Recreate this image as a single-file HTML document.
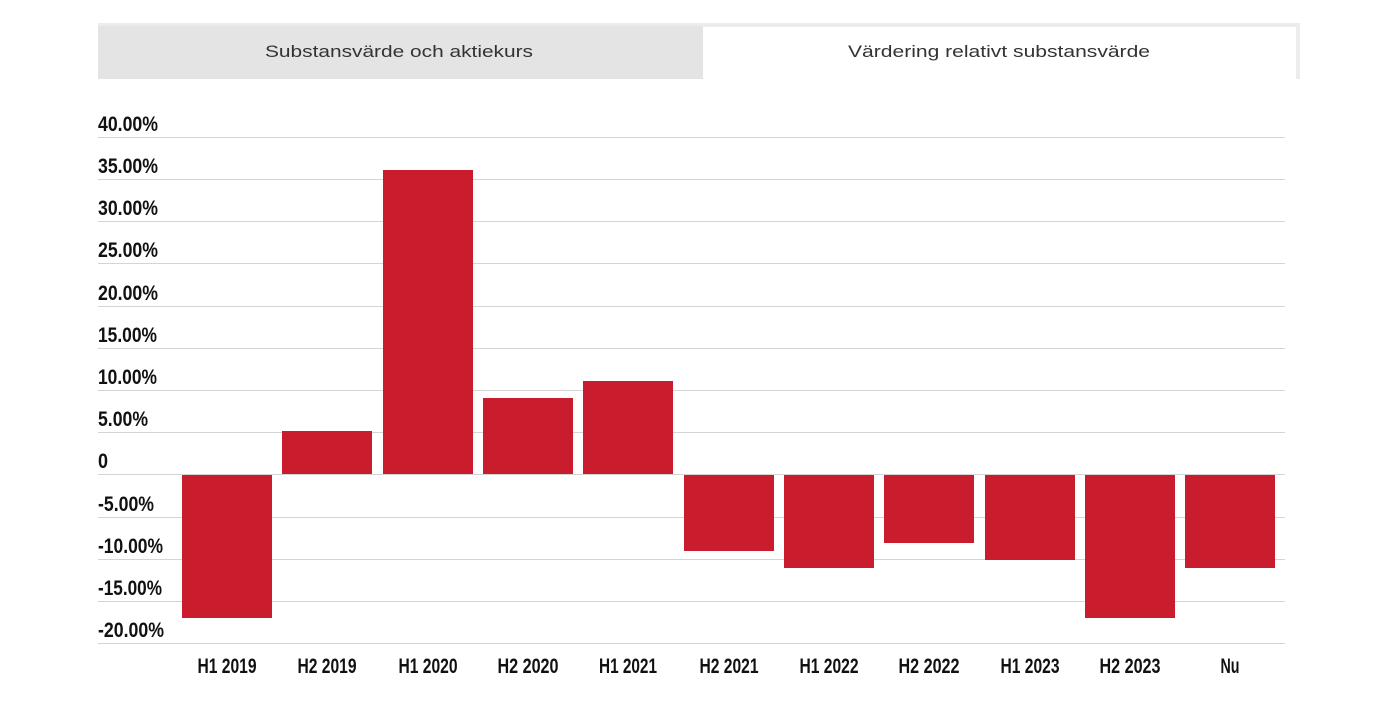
<!DOCTYPE html>
<html><head><meta charset="utf-8"><style>
html,body{margin:0;padding:0;background:#fff;width:1380px;height:710px;overflow:hidden}
svg{display:block}
.t{font-family:"Liberation Sans",sans-serif;font-size:17px;fill:#333}
.l{font-family:"Liberation Sans",sans-serif;font-weight:bold;font-size:21px;fill:#111}
</style></head><body>
<svg width="1380" height="710" xmlns="http://www.w3.org/2000/svg">
<rect x="98" y="23" width="1202" height="56" fill="#ececec"/>
<rect x="98" y="26" width="605" height="53" fill="#e4e4e4"/>
<rect x="703" y="27" width="593" height="52" fill="#fff"/>
<text class="t" x="399" y="57" text-anchor="middle" textLength="268" lengthAdjust="spacingAndGlyphs">Substansvärde och aktiekurs</text>
<text class="t" x="999" y="57" text-anchor="middle" textLength="302" lengthAdjust="spacingAndGlyphs">Värdering relativt substansvärde</text>
<g stroke="#d4d4d4" stroke-width="1">
<line x1="98" x2="1285" y1="137.5" y2="137.5"/>
<line x1="98" x2="1285" y1="179.5" y2="179.5"/>
<line x1="98" x2="1285" y1="221.5" y2="221.5"/>
<line x1="98" x2="1285" y1="263.5" y2="263.5"/>
<line x1="98" x2="1285" y1="306.5" y2="306.5"/>
<line x1="98" x2="1285" y1="348.5" y2="348.5"/>
<line x1="98" x2="1285" y1="390.5" y2="390.5"/>
<line x1="98" x2="1285" y1="432.5" y2="432.5"/>
<line x1="98" x2="1285" y1="474.5" y2="474.5"/>
<line x1="98" x2="1285" y1="517.5" y2="517.5"/>
<line x1="98" x2="1285" y1="559.5" y2="559.5"/>
<line x1="98" x2="1285" y1="601.5" y2="601.5"/>
<line x1="98" x2="1285" y1="643.5" y2="643.5"/>
</g>
<g class="l" lengthAdjust="spacingAndGlyphs">
<text x="98" y="131" textLength="60" lengthAdjust="spacingAndGlyphs">40.00%</text>
<text x="98" y="173" textLength="60" lengthAdjust="spacingAndGlyphs">35.00%</text>
<text x="98" y="215" textLength="60" lengthAdjust="spacingAndGlyphs">30.00%</text>
<text x="98" y="257" textLength="60" lengthAdjust="spacingAndGlyphs">25.00%</text>
<text x="98" y="300" textLength="60" lengthAdjust="spacingAndGlyphs">20.00%</text>
<text x="98" y="342" textLength="59" lengthAdjust="spacingAndGlyphs">15.00%</text>
<text x="98" y="384" textLength="59" lengthAdjust="spacingAndGlyphs">10.00%</text>
<text x="98" y="426" textLength="50" lengthAdjust="spacingAndGlyphs">5.00%</text>
<text x="98" y="468" textLength="10" lengthAdjust="spacingAndGlyphs">0</text>
<text x="98" y="511" textLength="56" lengthAdjust="spacingAndGlyphs">-5.00%</text>
<text x="98" y="553" textLength="65" lengthAdjust="spacingAndGlyphs">-10.00%</text>
<text x="98" y="595" textLength="64" lengthAdjust="spacingAndGlyphs">-15.00%</text>
<text x="98" y="637" textLength="66" lengthAdjust="spacingAndGlyphs">-20.00%</text>
</g>
<g fill="#c91d2e">
<rect x="182" y="475" width="90" height="143"/>
<rect x="282" y="431" width="90" height="43"/>
<rect x="383" y="170" width="90" height="304"/>
<rect x="483" y="398" width="90" height="76"/>
<rect x="583" y="381" width="90" height="93"/>
<rect x="684" y="475" width="90" height="76"/>
<rect x="784" y="475" width="90" height="93"/>
<rect x="884" y="475" width="90" height="68"/>
<rect x="985" y="475" width="90" height="85"/>
<rect x="1085" y="475" width="90" height="143"/>
<rect x="1185" y="475" width="90" height="93"/>
</g>
<g class="l" text-anchor="middle">
<text x="227" y="673" textLength="59" lengthAdjust="spacingAndGlyphs">H1 2019</text>
<text x="327" y="673" textLength="59" lengthAdjust="spacingAndGlyphs">H2 2019</text>
<text x="428" y="673" textLength="59" lengthAdjust="spacingAndGlyphs">H1 2020</text>
<text x="528" y="673" textLength="61" lengthAdjust="spacingAndGlyphs">H2 2020</text>
<text x="628" y="673" textLength="58" lengthAdjust="spacingAndGlyphs">H1 2021</text>
<text x="729" y="673" textLength="59" lengthAdjust="spacingAndGlyphs">H2 2021</text>
<text x="829" y="673" textLength="59" lengthAdjust="spacingAndGlyphs">H1 2022</text>
<text x="929" y="673" textLength="61" lengthAdjust="spacingAndGlyphs">H2 2022</text>
<text x="1030" y="673" textLength="59" lengthAdjust="spacingAndGlyphs">H1 2023</text>
<text x="1130" y="673" textLength="61" lengthAdjust="spacingAndGlyphs">H2 2023</text>
<text x="1230" y="673" textLength="19" lengthAdjust="spacingAndGlyphs">Nu</text>
</g>
</svg>
</body></html>
